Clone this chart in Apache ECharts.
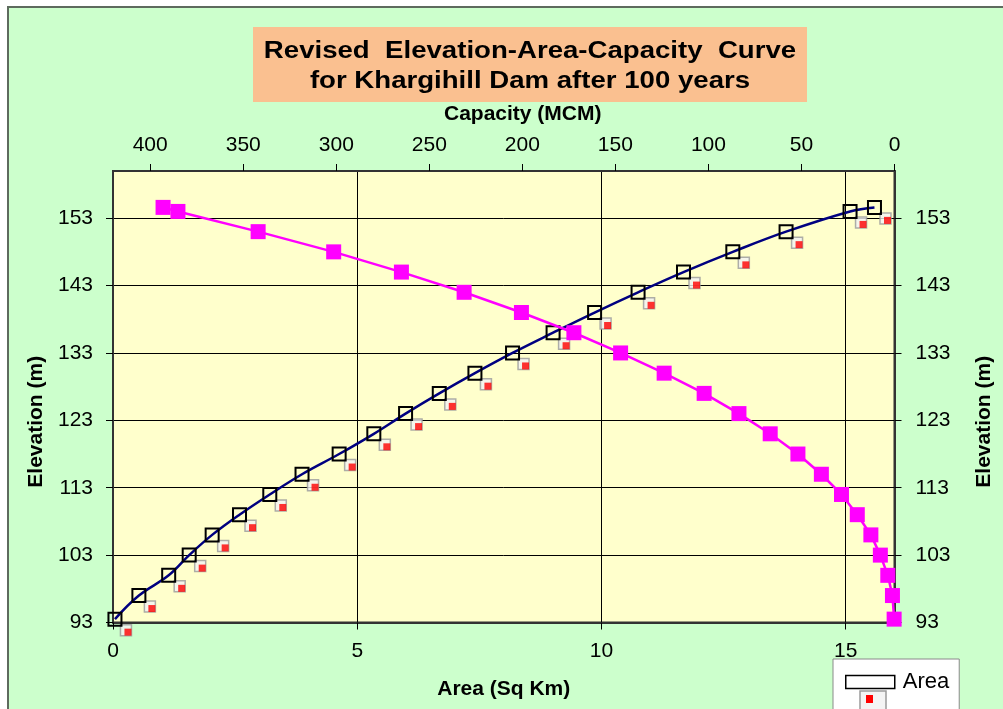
<!DOCTYPE html>
<html>
<head>
<meta charset="utf-8">
<script src="https://cdn.jsdelivr.net/npm/echarts@6/dist/echarts.min.js"></script>
<style>
  html, body { margin: 0; padding: 0; background: #ffffff; }
  #chart { width: 1003px; height: 709px; }
</style>
</head>
<body>
<div id="chart"></div>
<script>
// Reservoir levels (m) surveyed for the revised curve
const elevation = [93.5, 97, 100, 103, 106, 109, 112, 115, 118, 121, 124, 127, 130, 133, 136, 139, 142, 145, 148, 151, 154, 154.6];
// Water-spread area at each level (Sq Km)
const area = [0.04, 0.53, 1.14, 1.56, 2.03, 2.59, 3.21, 3.87, 4.63, 5.34, 5.99, 6.68, 7.41, 8.18, 9.01, 9.86, 10.75, 11.68, 12.69, 13.78, 15.09, 15.59];
// Cumulative storage at each level (MCM)
const capacity = [0.2, 1.1, 3.6, 7.6, 12.7, 20.0, 28.5, 39.3, 51.9, 66.8, 83.6, 102.3, 123.8, 147.2, 172.3, 200.5, 231.3, 265.0, 301.4, 342.0, 385.1, 393.1];

const areaRange = [0, 16, 5];        // min, max, interval
const capacityRange = [0, 420, 50];
const elevationRange = [93, 160, 10];

const chartTitle = 'Revised  Elevation-Area-Capacity  Curve\nfor Khargihill Dam after 100 years';

const FONT = 'Arial, "Liberation Sans", sans-serif';

const areaPoints = elevation.map((e, i) => [area[i], e]);
const capacityPoints = elevation.map((e, i) => [capacity[i], e]);

const chart = echarts.init(document.getElementById('chart'), null, { renderer: 'canvas' });

const tickLabel = { color: '#000', fontFamily: FONT, fontSize: 21 };
const axisName = { color: '#000', fontFamily: FONT, fontSize: 21, fontWeight: 'bold' };
const frameLine = { show: true, lineStyle: { color: '#333', width: 2 } };

chart.setOption({
  backgroundColor: '#ffffff',
  animation: false,
  graphic: [
    { type: 'rect', z: -20, shape: { x: 8, y: 7, width: 1010, height: 720 },
      style: { fill: '#CCFFCC', stroke: '#5e6b5e', lineWidth: 2 } },
    // title plate with the two-line heading, drawn slightly wide
    { type: 'rect', z: -10, shape: { x: 253, y: 27, width: 554, height: 75 },
      style: { fill: '#FAC090' } },
    { type: 'text', z: 10, x: 530, y: 67, scaleX: 1.2, scaleY: 1,
      style: { text: chartTitle, fill: '#000', align: 'center', verticalAlign: 'middle',
               fontFamily: FONT, fontSize: 23, fontWeight: 'bold', lineHeight: 30 } },
    // legend pictogram tail under the Area swatch
    { type: 'rect', z: 100, shape: { x: 860, y: 691, width: 26, height: 24 },
      style: { fill: '#f4f4f4', stroke: '#9a9a9a', lineWidth: 1.5 } },
    { type: 'rect', z: 101, shape: { x: 866, y: 695, width: 7, height: 8 },
      style: { fill: '#ff0000' } }
  ],
  legend: {
    data: [{ name: 'Area', icon: 'rect' }],
    left: 833, top: 659, orient: 'vertical',
    backgroundColor: '#ffffff', borderColor: '#8a8a8a', borderWidth: 1,
    padding: [12, 10, 40, 12],
    itemWidth: 49, itemHeight: 13,
    itemStyle: { color: '#ffffff', borderColor: '#000', borderWidth: 1.5 },
    textStyle: { fontFamily: FONT, fontSize: 22, color: '#000', padding: [0, 0, 0, 3] }
  },
  grid: {
    left: 113, right: 108.5, top: 171, bottom: 86.5,
    show: true, backgroundColor: '#FFFFCC', borderColor: '#333', borderWidth: 2
  },
  xAxis: [
    {
      type: 'value', position: 'bottom',
      min: areaRange[0], max: areaRange[1], interval: areaRange[2],
      name: 'Area (Sq Km)', nameLocation: 'middle', nameGap: 56,
      nameTextStyle: axisName,
      axisLine: frameLine,
      axisTick: { show: true, length: 7, lineStyle: { color: '#000' } },
      axisLabel: Object.assign({ margin: 18, showMaxLabel: false }, tickLabel),
      splitLine: { show: true, lineStyle: { color: '#000', width: 1 } }
    },
    {
      type: 'value', position: 'top', inverse: true,
      min: capacityRange[0], max: capacityRange[1], interval: capacityRange[2],
      name: 'Capacity (MCM)', nameLocation: 'middle', nameGap: 46,
      nameTextStyle: Object.assign({ padding: [0, 0, 0, 38] }, axisName),
      axisLine: frameLine,
      axisTick: { show: true, length: 7, lineStyle: { color: '#000' } },
      axisLabel: Object.assign({ margin: 15, showMaxLabel: false }, tickLabel),
      splitLine: { show: false }
    }
  ],
  yAxis: [
    {
      type: 'value', position: 'left',
      min: elevationRange[0], max: elevationRange[1], interval: elevationRange[2],
      name: 'Elevation (m)', nameLocation: 'middle', nameGap: 66, nameRotate: 90,
      nameTextStyle: Object.assign({ padding: [0, 50, 0, 0] }, axisName),
      axisLine: frameLine,
      axisTick: { show: true, length: 7, lineStyle: { color: '#000' } },
      axisLabel: Object.assign({ margin: 20, showMaxLabel: false }, tickLabel),
      splitLine: { show: true, lineStyle: { color: '#000', width: 1 } }
    },
    {
      type: 'value', position: 'right',
      min: elevationRange[0], max: elevationRange[1], interval: elevationRange[2],
      name: 'Elevation (m)', nameLocation: 'middle', nameGap: 79, nameRotate: 90,
      nameTextStyle: Object.assign({ padding: [0, 50, 0, 0] }, axisName),
      axisLine: frameLine,
      axisTick: { show: true, length: 7, lineStyle: { color: '#000' } },
      axisLabel: Object.assign({ margin: 21, showMaxLabel: false }, tickLabel),
      splitLine: { show: false }
    }
  ],
  series: [
    {
      name: 'Area', type: 'line', xAxisIndex: 0, yAxisIndex: 0,
      data: areaPoints, smooth: 0.4,
      symbol: 'rect', symbolSize: 13, z: 3,
      lineStyle: { color: '#000080', width: 2.5 },
      itemStyle: { color: 'rgba(0,0,0,0)', borderColor: '#000', borderWidth: 2 }
    },
    {
      name: 'Area marker frame', type: 'scatter', xAxisIndex: 0, yAxisIndex: 0,
      data: areaPoints, symbol: 'rect', symbolSize: 11, symbolOffset: [11, 11],
      silent: true, z: 2,
      itemStyle: { color: '#f2f2f2', borderColor: '#9a9a9a', borderWidth: 1.5 }
    },
    {
      name: 'Area marker fill', type: 'scatter', xAxisIndex: 0, yAxisIndex: 0,
      data: areaPoints, symbol: 'rect', symbolSize: 7, symbolOffset: [13, 13],
      silent: true, z: 2,
      itemStyle: { color: '#ff0000' }
    },
    {
      name: 'Capacity', type: 'line', xAxisIndex: 1, yAxisIndex: 0,
      data: capacityPoints,
      symbol: 'rect', symbolSize: 15, z: 4,
      lineStyle: { color: '#FF00FF', width: 2.5 },
      itemStyle: { color: '#FF00FF' }
    }
  ]
});
</script>
</body>
</html>
